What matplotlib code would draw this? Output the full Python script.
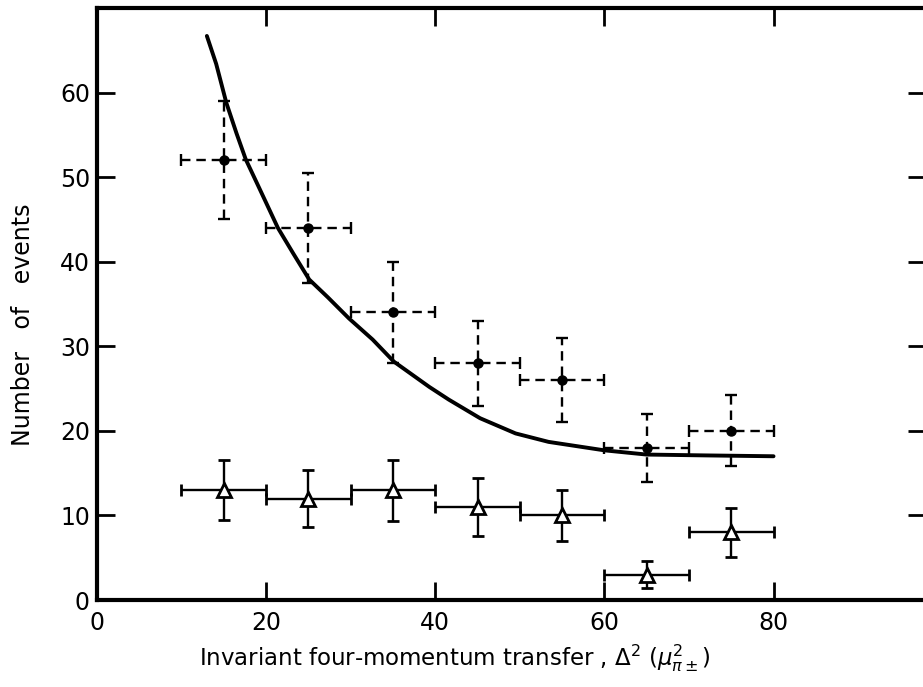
import matplotlib.pyplot as plt
import numpy as np

plt.rcParams['font.family'] = ['DejaVu Sans']
plt.rcParams['mathtext.fontset'] = 'dejavusans'

# bin centres and half-widths (Delta^2 in units of mu_pi^2)
bin_centres = [15, 25, 35, 45, 55, 65, 75]
bin_half = [5, 5, 5, 5, 5, 5, 5]

# all events (filled dots, dashed error bars)
all_counts = [52, 44, 34, 28, 26, 18, 20]
all_err = [7, 6.5, 6, 5, 5, 4, 4.2]

# second sample (open triangles, solid error bars)
tri_counts = [13, 12, 13, 11, 10, 3, 8]
tri_err = [3.5, 3.4, 3.6, 3.4, 3.0, 1.6, 2.9]

curve_x = [13, 14.1, 15.3, 16.5, 17.6, 19.2, 21.4, 23.2, 25.1, 27.3, 29.8,
           32.6, 35.1, 39.3, 41.6, 45.3, 49.5, 53.4, 60, 65, 72, 80]
curve_y = [66.7, 63.4, 58.8, 55.2, 52.1, 48.7, 44.0, 41.0, 37.9, 35.8, 33.3,
           30.8, 28.2, 25.2, 23.7, 21.5, 19.7, 18.7, 17.7, 17.2, 17.1, 17.0]

fig = plt.figure(figsize=(9.23, 6.87), dpi=100)
ax = fig.add_axes([0.105, 0.1266, 0.898, 0.8617])

ax.plot(curve_x, curve_y, color='black', lw=2.8, solid_capstyle='round',
        solid_joinstyle='round', zorder=3)

eb = ax.errorbar(bin_centres, all_counts, yerr=all_err, xerr=bin_half,
                 fmt='o', color='black', ms=6.5, elinewidth=1.7, capsize=4,
                 capthick=1.7, zorder=4)
for lc in eb[2]:
    lc.set_linestyle((0, (4, 2.5)))

ax.errorbar(bin_centres, tri_counts, yerr=tri_err, xerr=bin_half,
            fmt='^', color='black', mfc='white', mec='black', ms=10, mew=2,
            elinewidth=1.7, capsize=4, capthick=1.7, zorder=4)

ax.set_xlim(0, 98)
ax.set_ylim(0, 70)
ax.set_xticks([0, 20, 40, 60, 80])
ax.set_yticks([0, 10, 20, 30, 40, 50, 60])

for side in ['left', 'bottom', 'top', 'right']:
    ax.spines[side].set_linewidth(3)
ax.tick_params(direction='in', length=13, width=2, top=True, right=True,
               labelsize=17, pad=8)
ax.tick_params(axis='y', pad=5)

ax.set_xlabel(r'Invariant four-momentum transfer , $\Delta^2$ $(\mu^2_{\pi\pm})$',
              fontsize=16.5)
ax.set_ylabel('Number   of   events', fontsize=17)
ax.xaxis.set_label_coords(0.432, -0.072)
ax.yaxis.set_label_coords(-0.075, 0.465)

fig.savefig('out.png', dpi=100)
